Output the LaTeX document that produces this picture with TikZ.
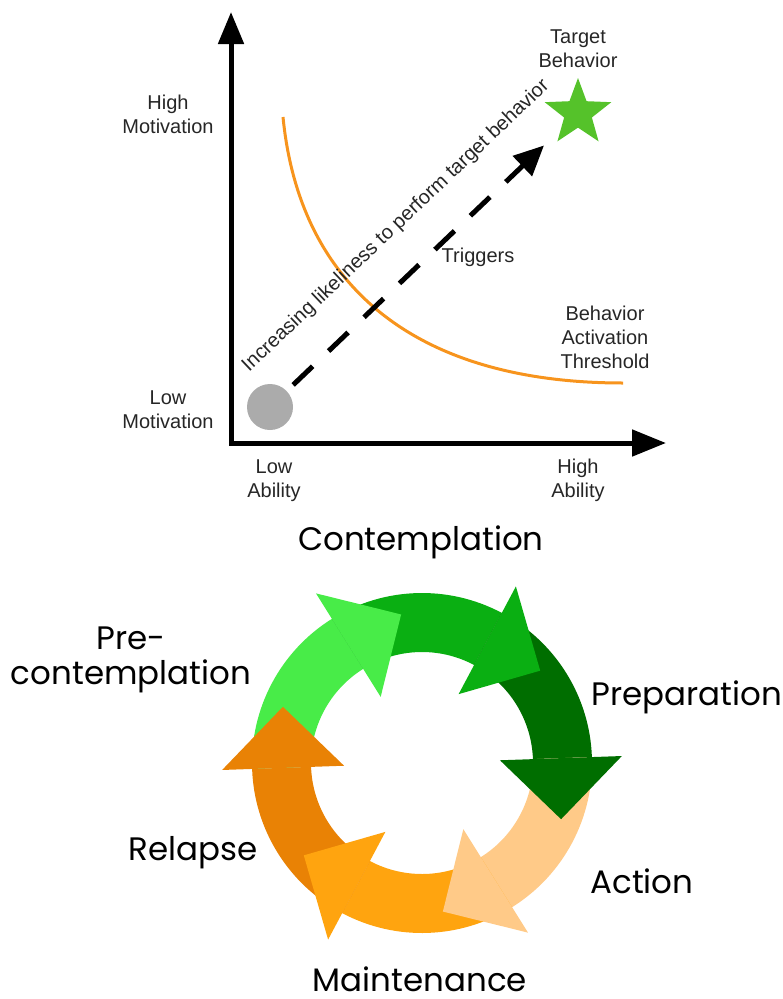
\documentclass[tikz,border=0pt]{standalone}
\usepackage{fontspec}
\usetikzlibrary{arrows.meta,shapes.geometric,calc}
\newfontfamily\chartfont{Liberation Sans}
\newfontfamily\stagefont{Poppins}
\definecolor{lgreen}{RGB}{72,236,72}
\definecolor{mgreen}{RGB}{10,175,18}
\definecolor{dgreen}{RGB}{0,110,0}
\definecolor{peach}{RGB}{255,202,136}
\definecolor{orangeb}{RGB}{255,164,15}
\definecolor{dorange}{RGB}{233,130,5}
\definecolor{thresh}{RGB}{247,148,29}
\definecolor{stargreen}{RGB}{85,194,42}
\definecolor{dotgray}{RGB}{171,171,171}
\tikzset{
  chartlabel/.style={font=\chartfont\fontsize{20}{24}\selectfont, align=center, inner sep=0pt, text=black!85, anchor=base},
  stagelabel/.style={font=\stagefont\fontsize{32.5}{35}\selectfont, align=center, inner sep=0pt, anchor=base},
  axisline/.style={line width=5pt, {Triangle[length=32pt,width=25pt]}-{Triangle[length=34pt,width=26pt]}},
}
\begin{document}
\begin{tikzpicture}[x=1pt,y=-1pt]
\useasboundingbox (0,0) rectangle (783,999);
% ---------- chart ----------
\coordinate (ytop) at (231,12);
\coordinate (origin) at (231,443);
\coordinate (xend) at (666,443);
\draw[axisline] (ytop) -- (origin) -- (xend);

\coordinate (thA) at (283,117);
\coordinate (thB) at (623,383);
\draw[thresh, line width=3pt] (thA) .. controls (300,290) and (420,383) .. (thB);

\node[circle, fill=dotgray, minimum size=46pt, inner sep=0pt] (lowpt) at (270,407) {};
\node[star, star points=5, star point ratio=2.4, fill=stargreen, minimum size=70pt, inner sep=0pt] (star) at (578,113) {};

\draw[line width=5pt, dash pattern=on 27pt off 22pt, -{Triangle[length=30pt,width=27pt]}]
  ($(lowpt)!32pt!(star)$) -- ($(star)!47pt!(lowpt)$);

\node[chartlabel] (hm) at (168,133) {High\\Motivation};
\node[chartlabel] (lm) at (168,428) {Low\\Motivation};
\node[chartlabel] (la) at (274,497) {Low\\Ability};
\node[chartlabel] (ha) at (578,497) {High\\Ability};
\node[chartlabel] (tb) at (578,67) {Target\\Behavior};
\node[chartlabel] (tr) at (478,262) {Triggers};
\node[chartlabel] (bat) at (605,368) {Behavior\\Activation\\Threshold};
\node[chartlabel, anchor=center, rotate=43.5] (inc) at (396,226) {Increasing likeliness to perform target behavior};

% ---------- cycle ----------
\begin{scope}[shift={(422,763)}, yscale=-1]
  \foreach \b/\c in {122/lgreen, 62/mgreen, 2/dgreen, -58/peach, -118/orangeb, 182/dorange}{
    \pgfmathsetmacro{\s}{\b+60}
    \fill[\c] (\s:170) arc[start angle=\s, end angle=\b, radius=170] -- (\b:111) arc[start angle=\b, end angle=\s, radius=111] -- cycle;
  }
  \foreach \b/\c in {122/lgreen, 62/mgreen, 2/dgreen, -58/peach, -118/orangeb, 182/dorange}{
    \pgfmathsetmacro{\t}{\b-24}
    \fill[\c] (\b:200) -- (\t:150) -- (\b:78) -- cycle;
  }
\end{scope}

\node[stagelabel] (con) at (421,550) {Contemplation};
\node[stagelabel] (pre) at (131,684) {Pre-\\contemplation};
\node[stagelabel] (prep) at (687,705) {Preparation};
\node[stagelabel] (act) at (642,893) {Action};
\node[stagelabel] (rel) at (193,860) {Relapse};
\node[stagelabel] (mai) at (420,991) {Maintenance};
\end{tikzpicture}
\end{document}
